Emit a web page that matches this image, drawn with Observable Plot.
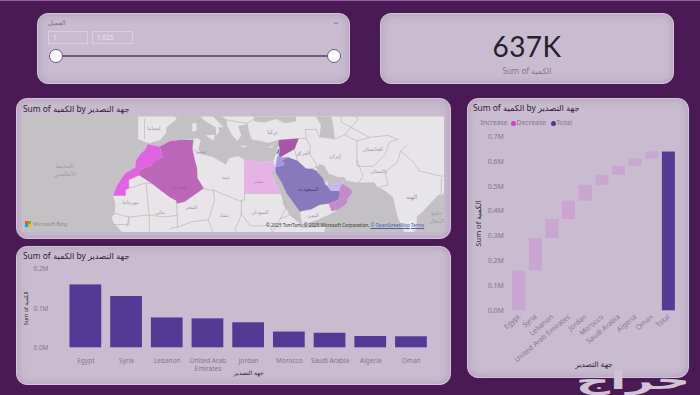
<!DOCTYPE html>
<html><head><meta charset="utf-8">
<script src="https://cdn.jsdelivr.net/npm/d3@7"></script>
<script src="https://cdn.jsdelivr.net/npm/@observablehq/plot@0.6"></script>
<style>
html,body{margin:0;padding:0;background:#4a1a54;width:700px;height:395px;overflow:hidden;font-family:"Noto Sans","DejaVu Sans",sans-serif}
.topline{position:absolute;left:0;top:0;width:700px;height:1px;background:#9a5aa8}
.panel{position:absolute;box-sizing:border-box;background:#c9bcd0;border:1px solid #d6c2df;border-radius:11px;box-shadow:inset 0 0 9px rgba(120,95,130,.35)}
.abs{position:absolute;white-space:nowrap}
.title{font-size:8.4px;color:#2b2530}
svg{position:absolute;display:block}
</style></head><body>
<div class="topline"></div>
<div id="root"></div>
<script>
// ---------- values ----------
const countries = ["Egypt","Syria","Lebanon","United Arab Emirates","Jordan","Morocco","Saudi Arabia","Algeria","Oman"];
const quantities = [0.160,0.1305,0.076,0.0737,0.0636,0.040,0.037,0.0288,0.028];
const cardValue = "637K";
const cardLabel = "Sum of الكمية";
const chartTitle = "Sum of الكمية by  جهة التصدير";
const xName = "جهة التصدير";
const yName = "Sum of الكمية";
const sliderLabel = "العميل";
const sliderMin = "1";
const sliderMax = "1,025";
const legendItems = ["Increase","Decrease","Total"];
const barTicks = [0,0.1,0.2];
const fallTicks = [0,0.1,0.2,0.3,0.4,0.5,0.6,0.7];
const C = {bar:"#543a94",inc:"#c9a6d2",dec:"#d63ad0",tick:"#85768c",dark:"#2f2933",land:"#e8e5e9",sea:"#c3c1c4",border:"#b9b6bb"};

// map geometry, lon/lat
const landAfrica = [[-5.9,35.8],[-2.1,35.1],[1,36.5],[5,36.9],[10,37.3],[11,36.8],[10.2,34.3],[11.5,33.1],[15,32.3],[19,30.3],[20,32],[23,32.6],[25,31.6],[29,31],[32.3,31.2],[32.6,29.9],[34,27],[35.5,24],[37,21],[37.5,18.5],[39.5,15.5],[43,12.5],[43.3,11.5],[51,11.8],[50,8],[45,2],[40,-5],[9,-5],[9,4],[-7.5,4.5],[-11,6.5],[-13.5,9.5],[-15,11],[-16.8,13],[-17.5,14.7],[-16.5,16],[-16.3,19],[-17,21],[-16,24],[-14.5,26.2],[-13,27.9],[-10,29.5],[-9.7,31.5],[-8,33.5],[-6.8,34.2]];
const landEurasia = [[-9,43],[-9,37],[-6,36.2],[-5.4,36],[-2,36.8],[0,38.7],[0,40],[3.2,41.9],[3.2,43],[6,43.1],[8.5,44.3],[10.3,43],[12.5,41.5],[15.8,40],[16,38],[17,39],[16.6,40],[18.4,40],[16,41.8],[13.6,43.5],[12.3,45.3],[13.7,45.6],[16,43.5],[19.4,41.8],[19.4,40.4],[21.2,38],[22.8,36.5],[24,38],[23,40.3],[26,40.8],[26.3,39.5],[27.3,37],[30.5,36.5],[32.5,36.1],[36,36.8],[35.9,35.5],[35,33],[34.2,31.3],[32.3,31.2],[32.6,29.9],[34.9,29.5],[35,28],[37,25],[38.5,22],[40,20],[42.8,16.4],[43.4,12.7],[45,12.8],[49,14.2],[52.2,15.6],[55,17],[57.7,18.9],[58,20.4],[59.8,22.5],[58.6,23.6],[56.4,24.9],[56.4,26.2],[55,25],[52.5,24.1],[51.6,24.2],[51.5,26],[50.8,24.7],[50.1,26.6],[48.8,27.7],[48,29.5],[49,30.4],[50.5,30],[52,27.7],[55,26.7],[57,26.8],[57.5,25.7],[61.5,25.1],[66.5,25.3],[67.5,24],[70,22.8],[72.5,21],[73,19],[74,15],[75.5,11.5],[77,8],[78,9],[80,11],[80.2,15],[82.3,16.7],[85,19.5],[87,21.5],[90,22],[91.5,22.5],[94,18],[94.5,16],[97,16.5],[100,13.5],[100,5],[110,5],[110,55],[-9,55]];
const islands = [
  [[8.3,39],[9.7,39.2],[9.7,41],[8.3,41]],
  [[12.5,38],[15.6,38.2],[15,36.7]],
  [[23.6,35.5],[26.2,35.2],[24.5,34.9]],
  [[32.4,34.9],[34.5,35.6],[33.8,34.9]]
];
const innerSeas = [
  [[28,41.5],[31.5,41.2],[35,42],[38,41],[41.5,41.5],[41.5,42.7],[37.5,44.8],[35,45],[33,46],[30.5,46],[28,43.5]],
  [[49,37.5],[54,37],[53.5,40],[53,42],[52,45],[48,46],[47.5,43],[49.5,40.5]]
];
const borders = [
  [[8.6,36.9],[8.3,34.6],[10.2,33.5],[11.5,33.1]],
  [[9.5,30.2],[9.8,29.2],[9.9,26.5],[11.9,23.5],[14,22.9],[15,23],[24,19.5],[24,20],[25,20],[25,31.6]],
  [[24,19.5],[24,15.7],[23,13],[22,11],[23,9]],
  [[15,23],[15.5,20],[13.5,14],[14,12.5],[15,10]],
  [[11.9,23.5],[5.8,19.5],[3.3,19],[3.5,15.4],[0.2,14.9],[-2,15],[-5.5,15.5],[-5.4,10.5]],
  [[-4.8,25],[-6.5,25],[-5.5,15.5],[-12,14.8],[-12.5,12]],
  [[-8.7,27.3],[-12,26],[-12,23.5],[-7,25],[-6.5,25]],
  [[-16.5,16],[-12,14.8]],
  [[3.5,15.4],[3.6,11.7],[2,11.5],[1,11]],
  [[13.5,14],[8,13.3],[3.6,11.7]],
  [[-12,14.8],[-12,12.5],[-16.8,12.5]],
  [[25,22],[36.9,22]],
  [[24,15.7],[27,12],[33,12.2],[34,10]],
  [[36.9,22],[38.5,18],[36.5,14.3],[34,10]],
  [[39.5,15.5],[36.5,14.3]],
  [[42,31.3],[41,34.4],[42.3,37.2]],
  [[36,36.8],[42.3,37.2],[44.8,37.2],[44.5,39.5]],
  [[44.8,37.2],[46,35.5],[46,33],[48,30.5],[48,29.5]],
  [[46.5,29.1],[48,29.5]],
  [[44.5,39.5],[48,39.5],[49,37.5]],
  [[54,37],[57,38.2],[61,36.6],[61,31.5],[63,27],[61.5,25.1]],
  [[61,36.6],[65,37.5],[71,38],[74,37]],
  [[61,31.5],[61,29.8],[66.3,29.8],[70,33],[71.5,36.3],[74,37]],
  [[68,23.8],[71,24.5],[70,28],[74,31],[75,34],[77,35.5]],
  [[75,34],[79,31],[81,28.5],[88,27],[92,27.5],[97,28.3]],
  [[88,26.4],[88,22]],
  [[92,25],[92,22]],
  [[57,38.2],[61.5,42],[56,45]],
  [[65,37.5],[56,41.3],[56,45]],
  [[43.2,16.7],[46.3,17.2],[49,18.6],[52,19],[53,16.6]],
  [[26,41],[28,42]],
  [[19.4,41.8],[23,41.3],[26,41]],
  [[-1.8,43.4],[3.2,42.5]],
  [[-7,42],[-7,37.2]]
];
const morocco = [[-5.9,35.8],[-2.1,35.1],[-1.2,32.4],[-3.5,31.5],[-5,30],[-8.7,28.7],[-8.7,27.3],[-12,26],[-12,23.5],[-13,23],[-13,21.3],[-17,21.3],[-16,24],[-14.5,26.2],[-13,27.9],[-10,29.5],[-9.7,31.5],[-8,33.5],[-6.8,34.2]];
const algeria = [[-2.1,35.1],[1,36.5],[5,36.9],[8.6,36.9],[8.3,34.6],[9.5,30.2],[9.8,29.2],[9.9,26.5],[11.9,23.5],[5.8,19.5],[3.3,19],[3.2,19.8],[1.2,20.8],[-4.8,25],[-8.7,27.3],[-8.7,28.7],[-5,30],[-3.5,31.5],[-1.2,32.4]];
const egypt = [[25,31.6],[29,31],[32.3,31.2],[34.2,31.3],[34.9,29.5],[34.2,28],[33.6,28.2],[32.6,29.9],[34,27],[35.5,24],[36.9,22],[25,22]];
const syria = [[35.9,35.5],[36,36.8],[42.3,37.2],[41,34.4],[38.8,33.4],[36.5,32.3],[35.9,32.7],[36.4,34.4]];
const lebanon = [[35.1,33.1],[35.9,34.6],[36.4,34.4],[35.9,33.3]];
const jordan = [[34.9,29.5],[35.5,32.6],[36.5,32.3],[39,32.3],[37,31.5],[38,30.3],[36.8,29.9]];
const saudi = [[34.9,29.5],[36.8,29.9],[38,30.3],[37,31.5],[39,32.3],[42,31.3],[44.7,29.2],[46.5,29.1],[48,28.6],[48.8,27.7],[50.1,26.6],[50.8,24.7],[51.6,24.2],[52.6,22.9],[55.2,22.7],[55.7,22],[55,20],[52,19],[49,18.6],[46.3,17.2],[43.2,16.7],[42.8,16.4],[40,20],[38.5,22],[37,25],[35,28]];
const uae = [[51.6,24.2],[52.5,24.1],[55,25],[56.4,26.2],[56.4,24.9],[55.7,24],[55.2,22.7],[52.6,22.9]];
const oman = [[56.4,24.9],[58.6,23.6],[59.8,22.5],[58,20.4],[57.7,18.9],[55,17],[53,16.6],[52,19],[55,20],[55.7,22],[55.2,22.7],[55.7,24]];
const shaded = [[morocco,"#e262e4"],[algeria,"#bb66b9"],[egypt,"#e7b3e6"],[syria,"#a557a4"],[lebanon,"#8a79cb"],[jordan,"#a29adf"],[saudi,"#8879bd"],[uae,"#c5b8ea"],[oman,"#c48aca"]];
const mapLabels = [
  [-32.5,29,"المحيط\nالأطلسي",6,"#a09da2"],[4,24,"الجزائر",5,"#8a5f8b"],[19,26.7,"ليبيا",5,"#98959a"],[29.5,25.7,"مصر",5,"#b784b4"],
  [45.5,23.5,"السعودية",5.5,"#4a3f70"],[34,39,"تركيا",5.5,"#98959a"],[43.7,33.5,"العراق",5,"#98959a"],[54,32.8,"إيران",5.5,"#98959a"],
  [66,34.5,"أفغانستان",5,"#98959a"],[68,28.5,"باكستان",5,"#98959a"],[78.5,21,"الهند",6,"#98959a"],[86.5,15,"خليج\nالبنغال",5.5,"#a09da2"],
  [-11.5,19.5,"موريتانيا",5,"#98959a"],[-2,16.5,"مالي",5,"#98959a"],[8,18,"النيجر",5,"#98959a"],[18.5,15.5,"تشاد",5,"#98959a"],
  [30,16.5,"السودان",5,"#98959a"],[47,15.5,"اليمن",5,"#98959a"],[-4,40,"إسبانيا",5,"#98959a"],[11,34,"تونس",4.5,"#98959a"]
];

// ---------- helpers ----------
const root = document.getElementById("root");
function el(cls,css,html){const d=document.createElement("div");d.className=cls;d.style.cssText=css;if(html!==undefined)d.innerHTML=html;root.appendChild(d);return d;}
function panel(l,t,w,h){return el("panel",`left:${l}px;top:${t}px;width:${w}px;height:${h}px`);}
function place(svg,l,t){svg.style.left=l+"px";svg.style.top=t+"px";svg.style.zIndex=2;root.appendChild(svg);}
function poly(ring){
  const f={type:"Feature",geometry:{type:"Polygon",coordinates:[[...ring,ring[0]]]}};
  if(d3.geoArea(f)>2*Math.PI)f.geometry.coordinates[0].reverse();
  return f;
}
const fmtM = d=>d.toFixed(1)+"M";
const font = '"Noto Sans","DejaVu Sans",sans-serif';

// ---------- panels ----------
panel(37,13,313,71);
panel(380,13,294,71);
panel(16,98,435,141);
panel(16,246,435,139);
panel(467,98,222,280);

// slicer
el("abs",`left:48px;top:18px;font-size:6.5px;color:#7d6e84`,sliderLabel);
el("abs",`left:333px;top:17px;font-size:7px;color:#7d6e84;transform:scaleX(1.5)`,"⌄");
el("abs",`left:48px;top:31px;width:40px;height:13px;border:1px solid #d9d0dd;box-sizing:border-box;font-size:6.5px;color:#efeaf1;padding:1px 4px`,sliderMin);
el("abs",`left:92px;top:31px;width:41px;height:13px;border:1px solid #d9d0dd;box-sizing:border-box;font-size:6.5px;color:#efeaf1;padding:1px 4px`,sliderMax);
el("abs",`left:56px;top:55px;width:278px;height:2px;background:#6d5a74`);
el("abs",`left:49px;top:49px;width:14px;height:14px;border-radius:50%;background:#fff;border:1px solid #6d5a74;box-sizing:border-box`);
el("abs",`left:327px;top:49px;width:14px;height:14px;border-radius:50%;background:#fff;border:1px solid #6d5a74;box-sizing:border-box`);

// card
el("abs",`left:380px;width:294px;top:29px;text-align:center;font-family:Lato,Roboto,sans-serif;font-size:28px;line-height:34px;color:#25202a;letter-spacing:.4px`,cardValue);
el("abs",`left:380px;width:294px;top:65px;text-align:center;font-size:8px;line-height:11px;color:#85768c`,cardLabel);

// titles
el("abs title",`left:23px;top:102px;line-height:13px`,chartTitle);
el("abs title",`left:23px;top:249px;line-height:13px`,chartTitle);
el("abs title",`left:473px;top:101px;line-height:13px`,chartTitle);

// ---------- map ----------
const MW=422, MH=116;
const mapPlot = Plot.plot({
  width:MW,height:MH,margin:0,
  style:{overflow:"hidden",background:C.sea,fontFamily:font},
  projection:()=>d3.geoMercator().scale(179).center([21.5,27.5]).translate([MW/2,MH/2]),
  marks:[
    Plot.geo([landAfrica,landEurasia,...islands].map(r=>poly(r)),{fill:C.land,stroke:"none"}),
    Plot.geo(innerSeas.map(r=>poly(r)),{fill:C.sea,stroke:"none"}),
    Plot.geo(borders.map(b=>({type:"Feature",geometry:{type:"LineString",coordinates:b}})),{stroke:C.border,strokeWidth:.7}),
    Plot.geo(shaded.map(d=>({...poly(d[0]),col:d[1]})),{fill:d=>d.col,stroke:"none"}),
    Plot.text(mapLabels,{x:d=>d[0],y:d=>d[1],text:d=>d[2],fontSize:d=>d[3],fill:d=>d[4],lineHeight:1.35})
  ]
});
place(mapPlot,22,116);
el("abs",`left:25px;top:221px;width:6px;height:6px;z-index:3;background:conic-gradient(#7fba00 0 25%,#ffb900 0 50%,#00a4ef 0 75%,#f25022 0)`);
el("abs",`left:33px;top:221px;font-size:5px;line-height:7px;color:#8b888d;z-index:3`,"Microsoft Bing");
el("abs",`left:266px;top:222px;font-size:4.6px;line-height:7px;color:#333;z-index:3`,`© 2025 TomTom, © 2025 Microsoft Corporation, <span style="color:#4a5ea8;text-decoration:underline">© OpenStreetMap</span> <span style="color:#4a5ea8;text-decoration:underline">Terms</span>`);

// ---------- bars ----------
const barRows = countries.map((c,i)=>({c,v:quantities[i]}));
const barPlot = Plot.plot({
  width:435,height:139,marginTop:22.7,marginBottom:37.7,marginLeft:49,marginRight:19.7,
  style:{background:"transparent",fontFamily:font},
  x:{domain:countries,paddingInner:.22,paddingOuter:.11,round:false,label:null},
  y:{domain:[0,.2],label:null},
  marks:[
    Plot.barY(barRows,{x:"c",y:"v",fill:C.bar}),
    Plot.axisX({anchor:"bottom",tickSize:0,tickPadding:8.5,fontSize:6.5,lineHeight:1.35,fill:C.tick,label:null,
      tickFormat:d=>d==="United Arab Emirates"?"United Arab\nEmirates":d}),
    Plot.axisY({anchor:"left",ticks:barTicks,tickSize:0,tickPadding:17,fontSize:6.5,fill:C.tick,tickFormat:fmtM,label:null}),
    Plot.text([yName],{frameAnchor:"left",dx:-39,rotate:-90,textAnchor:"middle",fontSize:5.5,fill:C.dark}),
    Plot.text([xName],{frameAnchor:"bottom",dy:27,textAnchor:"middle",fontSize:6,fill:C.dark})
  ]
});
place(barPlot,16,246);

// ---------- waterfall ----------
let run=0;
const fallRows = countries.map((c,i)=>{const y1=run;run+=quantities[i];return {c,y1,y2:run,f:C.inc};});
fallRows.push({c:"Total",y1:0,y2:run,f:C.bar});
const fallPlot = Plot.plot({
  width:222,height:280,marginTop:38,marginBottom:67.7,marginLeft:43.4,marginRight:12.3,
  style:{background:"transparent",fontFamily:font},
  x:{domain:fallRows.map(d=>d.c),paddingInner:.22,paddingOuter:.11,round:false,label:null},
  y:{domain:[0,.7],label:null},
  marks:[
    Plot.barY(fallRows,{x:"c",y1:"y1",y2:"y2",fill:"f"}),
    Plot.axisX({anchor:"bottom",tickSize:0,tickPadding:5,tickRotate:-40,fontSize:7,fill:C.tick,label:null}),
    Plot.axisY({anchor:"left",ticks:fallTicks,tickSize:0,tickPadding:7,fontSize:7,fill:C.tick,tickFormat:fmtM,label:null}),
    Plot.text([yName],{frameAnchor:"left",dx:-32,rotate:-90,textAnchor:"middle",fontSize:7.5,fill:C.dark}),
    Plot.text([xName],{frameAnchor:"bottom",dy:56,textAnchor:"middle",fontSize:7.5,fill:C.dark})
  ]
});
place(fallPlot,467,98);
const legendX=[477,513,553], legendCol=["#cdbcd3",C.dec,"#4e3a8f"];
legendItems.forEach((t,i)=>{
  el("abs",`left:${legendX[i]-2.5}px;top:120.5px;width:5px;height:5px;border-radius:50%;background:${legendCol[i]}`);
  el("abs",`left:${legendX[i]+3.5}px;top:118px;font-size:6.8px;line-height:10px;color:${C.tick}`,t);
});

// watermark
el("abs",`left:572px;top:372px;width:122px;text-align:center;z-index:5;font-family:'DejaVu Sans';font-weight:bold;font-size:25px;line-height:18px;color:#cfc3d4;transform:scaleX(1.9)`,"حراج");
</script>
</body></html>
